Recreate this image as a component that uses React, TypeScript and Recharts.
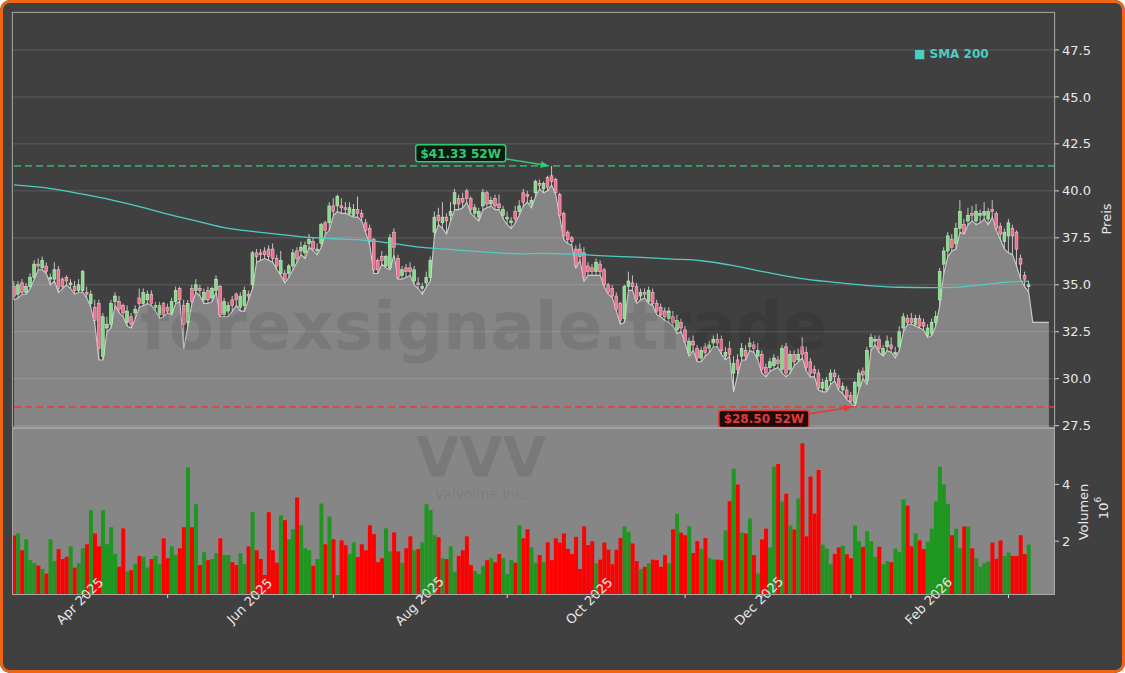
import {
  ComposedChart,
  Bar,
  Area,
  Line,
  XAxis,
  YAxis,
  CartesianGrid,
  ReferenceLine,
  ReferenceDot,
  Cell,
} from "recharts";

const FONT = "'DejaVu Sans', sans-serif";
const W = 1125;
const H = 673;

// one entry per trading day, 7 Mar 2025 .. 6 Mar 2026
const opens = [
  34.9, 34.5, 35.1, 34.6, 34.9, 35.4, 36.1, 35.9, 36.0, 35.3,
  35.3, 35.8, 35.3, 35.4, 35.0, 34.9, 34.7, 34.7, 34.6, 34.0,
  33.8, 34.0, 31.2, 32.7, 32.9, 34.1, 34.1, 33.9, 33.0, 33.3,
  33.5, 34.3, 34.0, 34.2, 34.5, 33.8, 33.4, 34.0, 33.8, 33.5,
  34.1, 34.8, 33.9, 33.0, 34.8, 34.7, 34.8, 34.2, 34.7, 34.3,
  34.7, 34.9, 33.4, 33.6, 34.2, 34.5, 33.8, 33.9, 34.5, 35.0,
  36.7, 36.7, 36.8, 36.9, 36.9, 36.4, 35.6, 35.6, 35.6, 36.0,
  36.8, 36.8, 36.7, 37.2, 37.3, 36.8, 37.2, 38.3, 38.3, 39.2,
  39.2, 39.2, 39.1, 38.8, 38.7, 39.0, 38.8, 38.3, 38.0, 37.4,
  36.3, 36.5, 36.0, 35.9, 37.8, 36.4, 35.5, 35.9, 35.9, 35.2,
  35.1, 34.8, 35.1, 35.4, 37.8, 38.7, 38.3, 38.6, 38.7, 39.3,
  39.6, 39.6, 40.0, 39.6, 38.8, 38.6, 39.2, 39.9, 39.3, 39.6,
  39.3, 38.7, 38.5, 38.3, 38.9, 38.9, 39.9, 39.8, 39.3, 39.9,
  40.4, 40.1, 40.7, 40.8, 40.6, 39.8, 38.8, 37.8, 37.5, 36.9,
  36.9, 36.7, 36.0, 35.9, 35.7, 36.1, 35.8, 35.0, 34.8, 34.4,
  34.0, 33.2, 34.9, 35.1, 34.9, 34.4, 34.6, 34.1, 34.6, 34.0,
  33.8, 33.6, 33.2, 33.3, 32.6, 33.0, 32.6, 31.4, 32.0, 31.6,
  31.1, 31.7, 31.6, 31.9, 32.1, 32.1, 31.2, 31.6, 30.3, 31.0,
  31.2, 31.5, 31.7, 31.8, 31.2, 31.3, 30.6, 30.6, 30.7, 31.0,
  30.5, 31.7, 30.5, 31.3, 31.0, 31.7, 31.4, 30.9, 30.5, 30.3,
  29.5, 29.4, 29.9, 30.3, 30.0, 29.4, 29.4, 29.1, 28.7, 29.6,
  30.4, 29.9, 31.7, 32.0, 32.1, 31.3, 31.7, 31.8, 31.3, 31.7,
  32.7, 33.2, 33.2, 32.9, 33.2, 33.0, 32.3, 32.4, 33.0, 34.2,
  36.1, 36.8, 37.4, 37.2, 38.0, 38.2, 38.4, 38.8, 38.4, 38.7,
  38.7, 38.5, 39.0, 38.8, 38.1, 37.3, 37.6, 38.0, 37.8, 36.4,
  35.5, 34.9,
];

const highs = [
  35.2, 35.2, 35.3, 35.1, 35.6, 36.3, 36.4, 36.5, 36.2, 35.6,
  36.2, 36.0, 35.4, 35.5, 35.3, 35.2, 35.3, 35.8, 34.9, 34.7,
  34.2, 34.2, 33.5, 33.3, 34.2, 34.6, 34.4, 34.0, 33.9, 33.5,
  33.9, 34.8, 34.8, 34.7, 34.7, 34.1, 34.1, 34.1, 34.0, 34.3,
  34.9, 34.9, 34.2, 34.2, 35.0, 35.3, 35.0, 34.8, 34.9, 34.9,
  35.5, 35.0, 34.3, 34.1, 34.4, 34.6, 34.6, 34.9, 34.7, 36.8,
  36.9, 36.9, 37.0, 37.1, 37.2, 36.6, 36.8, 35.8, 36.1, 36.9,
  37.0, 37.3, 37.3, 37.7, 37.5, 37.2, 38.3, 38.4, 39.4, 39.6,
  39.8, 39.6, 39.4, 39.4, 39.3, 39.7, 39.0, 38.5, 38.2, 37.5,
  36.4, 36.8, 36.6, 37.7, 38.0, 36.6, 36.0, 36.1, 36.2, 36.0,
  35.4, 35.1, 35.7, 36.5, 38.9, 39.1, 39.4, 38.8, 39.4, 40.1,
  39.8, 39.9, 40.1, 39.7, 39.3, 39.1, 40.1, 40.0, 39.7, 39.8,
  39.8, 39.2, 38.9, 38.6, 39.2, 39.5, 40.1, 40.0, 39.7, 40.6,
  40.6, 40.5, 40.8, 41.33, 40.7, 39.9, 38.9, 37.9, 37.6, 37.1,
  37.2, 37.0, 36.2, 36.1, 36.4, 36.3, 35.9, 35.1, 35.0, 34.6,
  34.1, 35.0, 35.7, 35.5, 35.1, 34.8, 34.8, 34.9, 34.8, 34.2,
  34.0, 33.8, 33.8, 33.6, 33.4, 33.2, 32.8, 32.2, 32.3, 31.8,
  31.7, 31.9, 32.0, 32.3, 32.4, 32.3, 31.7, 32.0, 31.2, 31.3,
  31.9, 31.8, 32.2, 32.0, 31.9, 31.5, 30.8, 31.1, 31.3, 31.2,
  31.8, 31.9, 31.5, 31.5, 31.6, 32.2, 31.7, 31.1, 30.7, 30.5,
  30.0, 30.1, 30.5, 30.5, 30.2, 29.8, 29.6, 29.3, 29.9, 30.5,
  30.6, 31.7, 32.4, 32.3, 32.3, 31.8, 32.3, 32.2, 31.7, 32.8,
  33.5, 33.4, 33.5, 33.4, 33.4, 33.2, 32.9, 33.2, 33.6, 35.9,
  37.0, 37.8, 37.7, 38.3, 39.5, 38.5, 39.1, 39.2, 39.3, 39.0,
  39.4, 39.1, 39.5, 38.9, 38.3, 38.0, 38.5, 38.2, 37.9, 36.6,
  35.7, 35.2,
];

const lows = [
  34.2, 34.3, 34.5, 34.5, 34.8, 35.3, 35.8, 35.8, 35.6, 35.0,
  35.2, 34.6, 34.8, 35.0, 34.8, 34.5, 34.6, 34.6, 34.3, 33.8,
  32.9, 31.0, 31.0, 32.5, 32.7, 33.9, 33.5, 33.3, 32.8, 32.7,
  33.2, 33.8, 33.9, 34.0, 33.9, 33.6, 33.2, 33.3, 33.5, 33.4,
  34.0, 34.1, 31.6, 32.8, 34.0, 34.6, 34.4, 34.0, 34.0, 34.1,
  34.6, 33.3, 33.3, 33.3, 33.6, 33.9, 33.6, 33.6, 34.2, 34.8,
  36.2, 36.3, 36.4, 36.3, 36.2, 35.8, 35.5, 35.1, 35.4, 35.8,
  36.2, 36.6, 36.4, 37.0, 36.8, 36.6, 37.0, 37.7, 37.9, 38.7,
  38.9, 38.8, 38.8, 38.7, 38.6, 38.6, 38.4, 37.8, 37.1, 35.6,
  35.6, 36.1, 35.9, 35.8, 36.6, 35.3, 35.3, 35.4, 35.5, 35.0,
  34.8, 34.5, 34.9, 35.2, 37.6, 38.2, 38.0, 37.7, 38.4, 39.0,
  39.0, 39.1, 39.4, 38.8, 38.6, 38.4, 39.0, 39.1, 39.2, 39.0,
  39.0, 38.5, 38.2, 38.0, 38.3, 38.7, 39.2, 39.4, 39.1, 39.7,
  40.1, 39.9, 40.0, 40.3, 39.8, 38.6, 37.4, 37.2, 37.1, 35.9,
  36.3, 35.2, 35.5, 35.5, 35.5, 35.5, 34.9, 34.5, 34.3, 33.6,
  32.9, 33.0, 34.7, 34.7, 34.0, 34.2, 34.3, 34.0, 33.9, 33.4,
  33.3, 33.1, 33.0, 32.8, 32.4, 32.5, 31.9, 31.2, 31.5, 30.9,
  30.9, 31.2, 31.4, 31.7, 31.7, 31.3, 31.0, 31.2, 29.3, 30.2,
  31.0, 31.0, 31.5, 31.4, 31.0, 30.3, 30.1, 30.4, 30.5, 30.6,
  30.3, 30.1, 30.3, 30.7, 30.9, 31.1, 30.4, 30.1, 30.1, 29.4,
  29.3, 29.3, 29.7, 29.9, 29.4, 29.2, 28.9, 28.7, 28.5, 29.4,
  30.0, 29.7, 31.5, 31.8, 31.4, 31.2, 31.5, 31.4, 31.1, 31.5,
  32.5, 32.9, 32.9, 32.8, 32.7, 32.6, 32.2, 32.3, 32.8, 33.9,
  35.6, 36.5, 36.8, 36.9, 37.8, 37.7, 38.2, 38.4, 38.2, 38.3,
  38.5, 38.2, 38.6, 37.9, 37.4, 36.9, 36.7, 36.6, 36.0, 35.3,
  34.9, 34.6,
];

const closes = [
  34.4, 35.0, 34.6, 34.9, 35.4, 36.1, 36.0, 36.3, 35.7, 35.4,
  35.8, 34.8, 34.9, 35.2, 35.1, 34.7, 35.0, 35.7, 34.5, 34.5,
  33.1, 31.6, 33.3, 32.9, 34.0, 34.4, 33.7, 33.5, 33.6, 32.9,
  33.7, 34.0, 34.6, 34.5, 34.0, 33.9, 33.9, 33.4, 33.6, 34.1,
  34.7, 34.2, 32.9, 34.0, 34.1, 35.0, 34.7, 34.6, 34.2, 34.8,
  35.3, 33.4, 34.1, 33.9, 33.9, 34.2, 34.4, 34.7, 34.4, 36.7,
  36.5, 36.6, 36.6, 36.5, 36.4, 36.0, 36.3, 35.3, 36.0, 36.7,
  36.4, 37.0, 37.1, 37.4, 36.9, 36.9, 38.2, 37.9, 39.2, 38.9,
  39.7, 39.1, 39.0, 39.1, 39.0, 38.8, 38.6, 37.9, 37.3, 35.8,
  35.8, 36.3, 36.5, 37.5, 37.0, 35.4, 35.8, 35.7, 35.7, 35.8,
  35.0, 34.9, 35.4, 36.3, 38.6, 38.4, 38.6, 38.4, 38.9, 39.9,
  39.3, 39.4, 39.6, 39.0, 39.1, 38.9, 39.9, 39.3, 39.5, 39.2,
  39.1, 39.0, 38.6, 38.4, 38.5, 39.2, 39.4, 39.7, 39.5, 40.5,
  40.3, 40.4, 40.2, 40.5, 39.9, 38.7, 37.6, 37.4, 37.3, 36.0,
  36.5, 35.4, 35.7, 35.7, 36.2, 35.7, 35.0, 34.6, 34.4, 33.7,
  33.1, 34.9, 35.2, 34.9, 34.2, 34.6, 34.5, 34.7, 34.0, 33.6,
  33.4, 33.3, 33.6, 33.0, 33.1, 32.7, 32.0, 32.0, 31.8, 31.1,
  31.5, 31.4, 31.8, 32.1, 31.9, 31.5, 31.4, 31.3, 30.8, 30.5,
  31.6, 31.2, 31.9, 31.6, 31.5, 30.5, 30.3, 30.9, 31.1, 30.8,
  31.6, 30.3, 31.3, 30.9, 31.3, 31.3, 30.6, 30.3, 30.3, 29.5,
  29.8, 29.9, 30.3, 30.1, 29.5, 29.6, 29.0, 28.8, 29.8, 30.3,
  30.2, 31.5, 32.2, 32.1, 31.6, 31.6, 32.0, 31.6, 31.4, 32.5,
  33.3, 33.0, 33.0, 33.2, 32.8, 32.8, 32.7, 33.0, 33.3, 35.7,
  36.8, 37.6, 37.0, 38.0, 38.9, 37.8, 38.7, 38.7, 38.9, 38.8,
  38.9, 38.9, 38.9, 38.0, 37.7, 37.8, 38.3, 37.6, 36.9, 36.1,
  35.3, 35.0,
];

// volume in millions of shares
const volumes = [
  2.2, 2.27, 1.68, 2.07, 1.33, 1.22, 1.14, 1.02, 0.86, 2.07,
  1.3, 1.72, 1.37, 1.45, 1.82, 1.07, 1.22, 1.75, 1.89, 3.09,
  2.27, 1.82, 3.09, 1.89, 2.49, 1.55, 1.1, 2.45, 0.93, 0.98,
  1.2, 1.48, 1.45, 1.07, 1.37, 1.48, 1.2, 2.1, 1.4, 1.82,
  1.51, 1.75, 2.49, 4.6, 2.49, 3.3, 1.16, 1.61, 1.33, 1.37,
  1.58, 2.1, 1.51, 1.51, 1.26, 1.16, 1.58, 1.2, 1.82, 3.02,
  1.68, 1.37, 0.81, 3.02, 1.68, 1.24, 2.91, 2.74, 2.07, 2.42,
  3.54, 2.56, 1.75, 1.68, 1.13, 1.37, 3.33, 1.89, 2.87, 2.07,
  0.81, 2.03, 1.86, 1.55, 1.96, 1.44, 1.89, 1.68, 2.56, 2.25,
  1.26, 1.4, 2.45, 1.64, 2.31, 1.64, 1.24, 1.75, 2.17, 1.68,
  1.72, 1.96, 3.3, 3.09, 2.21, 2.14, 1.4, 1.37, 1.82, 0.92,
  1.48, 1.68, 2.17, 1.16, 0.95, 0.84, 1.13, 1.33, 1.4, 1.26,
  1.55, 1.4, 0.84, 1.33, 1.24, 2.56, 2.1, 2.42, 1.79, 1.24,
  1.51, 1.26, 1.96, 1.33, 2.1, 1.95, 2.27, 1.73, 1.55, 2.15,
  1.02, 2.52, 1.86, 2.0, 1.22, 1.35, 1.95, 1.7, 1.19, 1.7,
  2.11, 2.52, 2.33, 1.92, 1.3, 1.02, 1.1, 1.22, 1.35, 1.33,
  1.1, 1.51, 1.22, 2.42, 2.97, 2.3, 2.21, 2.52, 1.58, 2.0,
  1.73, 2.11, 1.4, 1.35, 1.35, 1.33, 2.38, 3.41, 4.55, 4.0,
  2.3, 2.27, 2.8, 1.51, 0.86, 2.06, 2.44, 1.78, 4.63, 4.72,
  3.4, 3.67, 2.55, 2.41, 3.5, 5.45, 2.17, 4.28, 2.97, 4.51,
  1.88, 1.74, 1.19, 1.55, 1.78, 1.84, 1.54, 1.4, 2.55, 2.0,
  1.8, 2.35, 2.0, 1.45, 1.8, 1.19, 1.3, 1.26, 1.74, 1.61,
  3.48, 3.26, 1.82, 2.27, 2.03, 1.72, 1.98, 2.44, 3.41, 4.63,
  4.0, 3.32, 2.21, 2.44, 1.75, 2.52, 2.52, 1.75, 1.4, 1.1,
  1.22, 1.29, 1.95, 1.38, 2.03, 1.48, 1.6, 1.48, 1.48, 2.21,
  1.55, 1.88,
];

// flat fill level drawn after the last session
const tailLevel = [33.0, 33.0, 33.0, 33.0, 33.0];
const TAIL_EMPTY = 1;

// SMA 200 read at a few sessions, connected by the line
const smaIdx = [0, 7, 17, 24, 32, 38, 45, 53, 59, 65, 73, 79, 85, 93, 101, 109, 117, 125, 130, 138, 146, 154, 163, 170, 178, 186, 194, 203, 211, 219, 227, 234, 240, 245, 251];
const smaVal = [40.32, 40.18, 39.82, 39.52, 39.11, 38.76, 38.4, 38.0, 37.84, 37.7, 37.52, 37.45, 37.4, 37.22, 36.99, 36.86, 36.74, 36.65, 36.67, 36.63, 36.54, 36.47, 36.37, 36.28, 36.02, 35.67, 35.36, 35.13, 34.96, 34.87, 34.85, 34.88, 35.01, 35.13, 35.19];

// first session of each month
const monthIdx = [17, 38, 59, 79, 101, 122, 143, 166, 185, 207, 227, 246];
const monthLabels = ["Apr 2025", "", "Jun 2025", "", "Aug 2025", "", "Oct 2025", "", "Dec 2025", "", "Feb 2026", ""];

const priceTicks = [27.5, 30, 32.5, 35, 37.5, 40, 42.5, 45, 47.5];
const volTicks = [2, 4];

const high52 = 41.33;
const high52Idx = 133;
const low52 = 28.5;
const low52Idx = 208;

const smaMap = new Map(smaIdx.map((k, n) => [k, smaVal[n]]));
const nBars = opens.length;
const rows = Array.from({ length: nBars + tailLevel.length + TAIL_EMPTY }, (_, i) => {
  if (i < nBars) {
    return {
      i,
      o: opens[i],
      h: highs[i],
      l: lows[i],
      c: closes[i],
      range: [lows[i], highs[i]],
      fill: lows[i],
      vol: volumes[i],
      up: closes[i] >= opens[i],
      sma: smaMap.has(i) ? smaMap.get(i) : null,
    };
  }
  const t = i - nBars;
  return { i, fill: t < tailLevel.length ? tailLevel[t] : null, sma: null };
});

const GREEN = "#2ecc71";
const RED = "#e23b3b";
const TXT = "#e8e8e8";

function Candle(props: any) {
  const { x, y, width, height, payload } = props;
  if (!payload || payload.o == null || !height) return null;
  const { o, h, l, c } = payload;
  const top = Math.min(y, y + height);
  const span = Math.abs(height);
  const ppu = span / (h - l);
  const cx = x + width / 2;
  const bTop = top + (h - Math.max(o, c)) * ppu;
  const bBot = top + (h - Math.min(o, c)) * ppu;
  const bw = 2.8;
  const up = c >= o;
  return (
    <g>
      <line x1={cx} x2={cx} y1={top} y2={top + span} stroke="#d4d4d4" strokeWidth={0.9} />
      <rect
        x={cx - bw / 2}
        y={bTop}
        width={bw}
        height={Math.max(bBot - bTop, 0.8)}
        fill={up ? "#84dc84" : "#f06d8c"}
        stroke={up ? "#c8eec8" : "#f6c0cd"}
        strokeWidth={0.6}
      />
    </g>
  );
}

function arrowHead(x1: number, y1: number, x2: number, y2: number) {
  const len = Math.hypot(x2 - x1, y2 - y1);
  const ux = (x2 - x1) / len;
  const uy = (y2 - y1) / len;
  const bx = x2 - ux * 8;
  const by = y2 - uy * 8;
  return `${x2},${y2} ${bx - uy * 3.5},${by + ux * 3.5} ${bx + uy * 3.5},${by - ux * 3.5}`;
}

function Tag({ cx, cy, text, color, bg, dy }: any) {
  const boxX = cx - 136;
  const boxY = dy < 0 ? cy - 21 : cy + 3.5;
  const ax = cx - 46;
  const ay = dy < 0 ? cy - 7 : cy + 7;
  const tx = cx - 3;
  return (
    <g>
      <line x1={ax} y1={ay} x2={tx - 6} y2={cy + (ay - cy) * 0.15} stroke={color} strokeWidth={1.6} />
      <polygon points={arrowHead(ax, ay, tx, cy)} fill={color} />
      <rect x={boxX} y={boxY} width={90} height={17} rx={2.5} fill={bg} stroke={color} strokeWidth={1.5} />
      <text
        x={boxX + 45}
        y={boxY + 9}
        textAnchor="middle"
        dominantBaseline="central"
        fill={color}
        fontSize={12}
        fontWeight="bold"
        fontFamily={FONT}
      >
        {text}
      </text>
    </g>
  );
}

function MonthTick(props: any) {
  const { x, y, payload } = props;
  const label = monthLabels[monthIdx.indexOf(payload.value)];
  if (!label) return null;
  return (
    <g transform={`translate(${x - 3},${y + 1})`}>
      <text
        transform="rotate(-45)"
        textAnchor="middle"
        dominantBaseline="central"
        fill={TXT}
        fontSize={13}
        fontFamily={FONT}
      >
        {label}
      </text>
    </g>
  );
}

export default function App() {
  const axisTick = { fill: TXT, fontSize: 13, fontFamily: FONT };
  return (
    <div style={{ position: "relative", width: W, height: H, background: "#404040", borderRadius: 10, overflow: "hidden" }}>
      <style>{"body{margin:0}"}</style>

      <div style={{ position: "absolute", left: 0, top: 0 }}>
        <ComposedChart width={W} height={442} data={rows} margin={{ top: 12, right: 0, bottom: 15, left: 12 }}>
          <CartesianGrid stroke="#5c5c5c" />
          <XAxis dataKey="i" ticks={monthIdx} interval={0} tick={false} tickLine={false} axisLine={false} height={0} />
          <YAxis
            orientation="right"
            width={70}
            domain={[27.43, 49.52]}
            ticks={priceTicks}
            interval={0}
            allowDataOverflow
            tickFormatter={(v: number) => v.toFixed(1)}
            tick={axisTick}
            tickLine={{ stroke: "#d0d0d0" }}
            tickSize={4}
            tickMargin={3}
            axisLine={false}
          />
          <Area
            dataKey="fill"
            type="linear"
            stroke="#cccccc"
            strokeWidth={1.1}
            fill="#ffffff"
            fillOpacity={0.36}
            isAnimationActive={false}
          />
          <Bar dataKey="range" shape={Candle} isAnimationActive={false} />
          <Line
            dataKey="sma"
            type="monotone"
            connectNulls
            stroke="#4ecdc4"
            strokeWidth={1.3}
            dot={false}
            isAnimationActive={false}
          />
          <ReferenceLine y={high52} stroke={GREEN} strokeOpacity={0.75} strokeWidth={1.6} strokeDasharray="7 4" />
          <ReferenceLine y={low52} stroke={RED} strokeOpacity={0.85} strokeWidth={1.6} strokeDasharray="7 4" />
          <ReferenceDot
            x={high52Idx}
            y={high52}
            r={0}
            shape={(p: any) => (
              <Tag cx={p.cx} cy={p.cy} text={`$${high52.toFixed(2)} 52W`} color={GREEN} bg="#0e1a12" dy={-1} />
            )}
          />
          <ReferenceDot
            x={low52Idx}
            y={low52}
            r={0}
            shape={(p: any) => (
              <Tag cx={p.cx} cy={p.cy} text={`$${low52.toFixed(2)} 52W`} color={RED} bg="#1e0c0c" dy={1} />
            )}
          />
        </ComposedChart>
      </div>

      <div style={{ position: "absolute", left: 0, top: 427 }}>
        <ComposedChart width={W} height={246} data={rows} margin={{ top: 2, right: 0, bottom: 0, left: 12 }} barCategoryGap="3%">
          <CartesianGrid horizontal={false} vertical={false} fill="#868686" />
          <XAxis
            dataKey="i"
            ticks={monthIdx}
            interval={0}
            tick={<MonthTick />}
            tickLine={{ stroke: "#dcdcdc" }}
            tickSize={4}
            axisLine={false}
            height={79}
          />
          <YAxis
            orientation="right"
            width={70}
            domain={[0.14, 5.95]}
            ticks={volTicks}
            interval={0}
            allowDataOverflow
            tick={axisTick}
            tickLine={{ stroke: "#d0d0d0" }}
            tickSize={4}
            tickMargin={3}
            axisLine={false}
          />
          <Bar dataKey="vol" isAnimationActive={false}>
            {rows.map((r: any) => (
              <Cell key={r.i} fill={r.up ? "#1f961f" : "#ff0000"} />
            ))}
          </Bar>
        </ComposedChart>
      </div>

      <div style={{ position: "absolute", left: 12, top: 12, width: 1043, height: 416, border: "1px solid #9c9c9c", boxSizing: "border-box", pointerEvents: "none" }} />
      <div style={{ position: "absolute", left: 12, top: 428, width: 1043, height: 167, border: "1px solid #a8a8a8", boxSizing: "border-box", pointerEvents: "none" }} />

      <svg width={W} height={H} style={{ position: "absolute", left: 0, top: 0, pointerEvents: "none" }}>
        <text x={484} y={349} textAnchor="middle" fontSize={66} fontWeight="bold" fontFamily={FONT} fill="#000" fillOpacity={0.09}>
          forexsignale.trade
        </text>
        <text x={481} y={476} textAnchor="middle" fontSize={56} fontWeight="bold" fontFamily={FONT} fill="#000" fillOpacity={0.09}>
          VVV
        </text>
        <text x={481} y={499} textAnchor="middle" fontSize={14} fontFamily={FONT} fill="#000" fillOpacity={0.09}>
          Valvoline Inc.
        </text>
        <text x={914} y={58} fontSize={12} fontWeight="bold" fontFamily={FONT} fill="#4ecdc4">
          ■ SMA 200
        </text>
        <text transform="translate(1106,219) rotate(-90)" textAnchor="middle" dominantBaseline="central" fontSize={13} fontFamily={FONT} fill={TXT}>
          Preis
        </text>
        <text transform="translate(1083,512) rotate(-90)" textAnchor="middle" dominantBaseline="central" fontSize={13} fontFamily={FONT} fill={TXT}>
          Volumen
        </text>
        <text transform="translate(1103,508) rotate(-90)" textAnchor="middle" dominantBaseline="central" fontSize={13} fontFamily={FONT} fill={TXT}>
          10<tspan fontSize={9} dy={-5}>6</tspan>
        </text>
      </svg>

      <div style={{ position: "absolute", left: 0, top: 0, width: W, height: H, border: "3px solid #f06414", borderRadius: 10, boxSizing: "border-box", pointerEvents: "none" }} />
    </div>
  );
}
